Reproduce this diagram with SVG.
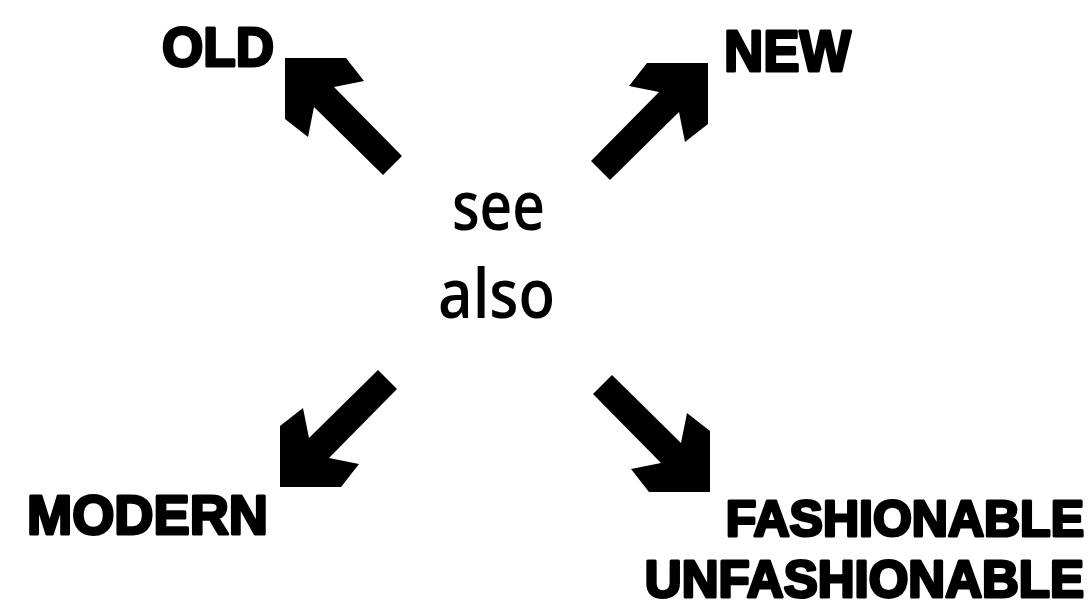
<svg xmlns="http://www.w3.org/2000/svg" xmlns:xlink="http://www.w3.org/1999/xlink" width="1091" height="608" viewBox="0 0 1091 608">
<style>
.lbl{font-family:"Liberation Sans","DejaVu Sans",sans-serif;font-weight:bold;fill:#000;stroke:#000;stroke-width:3;stroke-linejoin:round}
.ctr{font-family:"Open Sans","Noto Sans",sans-serif;font-weight:600;fill:#000}
.arrow{fill:#000}
</style>
<defs>
<polygon id="arr" points="0,0 61,0 79,23 49,29 117,98 98,117 29,49 23,79 0,61"/>
</defs>
<rect width="1091" height="608" fill="#fff"/>
<g id="connectors" class="arrow">
<use xlink:href="#arr" href="#arr" transform="translate(285,58)"/>
<use xlink:href="#arr" href="#arr" transform="translate(708,63) scale(-1,1)"/>
<use xlink:href="#arr" href="#arr" transform="translate(280,487) scale(1,-1)"/>
<use xlink:href="#arr" href="#arr" transform="translate(710,492) scale(-1,-1)"/>
</g>
<g id="center">
<text class="ctr" x="452" y="230" font-size="68" textLength="93" lengthAdjust="spacingAndGlyphs">see</text>
<text class="ctr" x="438" y="318" font-size="68" textLength="117" lengthAdjust="spacingAndGlyphs">also</text>
</g>
<g id="old"><text class="lbl" x="162" y="65.5" font-size="56" textLength="112" lengthAdjust="spacingAndGlyphs">OLD</text></g>
<g id="new"><text class="lbl" x="724" y="70.5" font-size="58" textLength="127" lengthAdjust="spacingAndGlyphs">NEW</text></g>
<g id="modern"><text class="lbl" x="27" y="533.5" font-size="56" textLength="241" lengthAdjust="spacingAndGlyphs">MODERN</text></g>
<g id="fashionable">
<text class="lbl" x="1084" y="536" font-size="50" text-anchor="end">FASHIONABLE</text>
<text class="lbl" x="1084" y="597" font-size="51" text-anchor="end">UNFASHIONABLE</text>
</g>
</svg>
